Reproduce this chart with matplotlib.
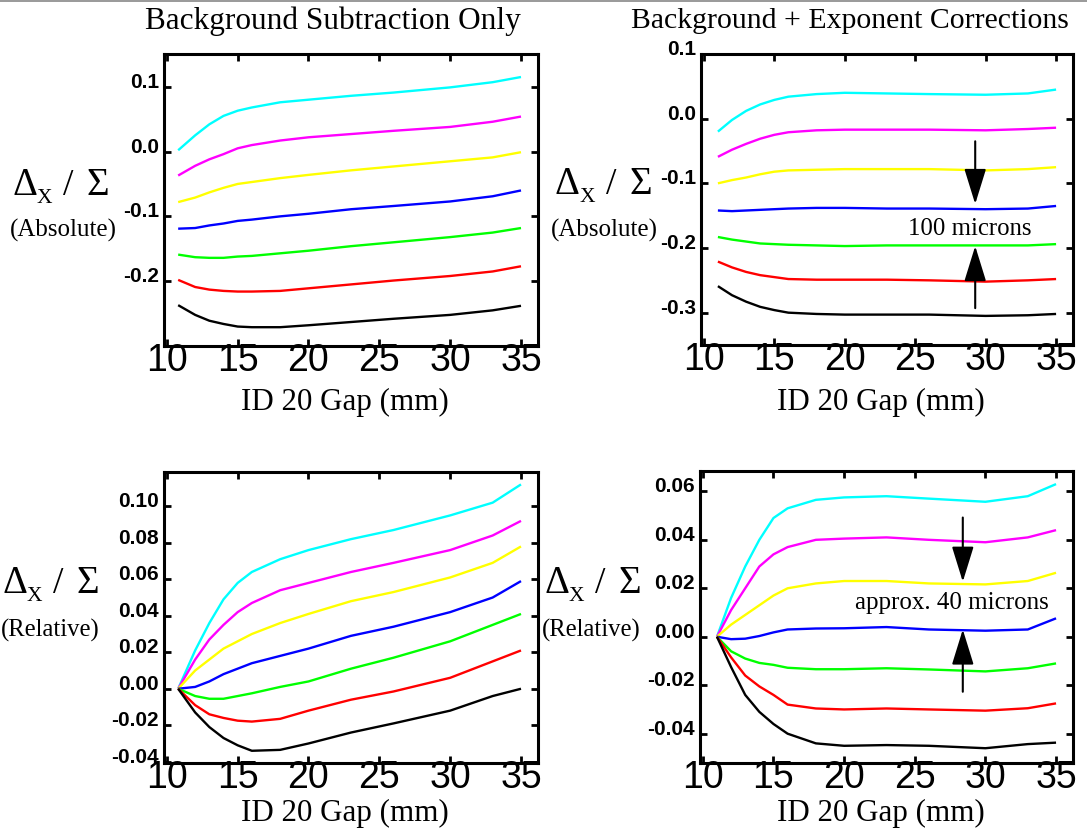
import matplotlib
matplotlib.use('Agg')
import matplotlib.pyplot as plt
import matplotlib.transforms as mtransforms
from matplotlib.lines import Line2D

W, H = 1087, 832

# ---------------- data ----------------
GAP_LEFT = [10.8, 12, 13, 14, 15, 16, 18, 20, 23, 26, 30, 33, 35]
GAP_RIGHT = [11.0, 12, 13, 14, 15, 16, 18, 20, 23, 26, 30, 33, 35]

COLORS = ['#00FFFF', '#FF00FF', '#FFFF00', '#0000FF', '#00FF00', '#FF0000', '#000000']

# Background subtraction only, absolute
BG_ABS_CYAN = [0.002, 0.025, 0.042, 0.055, 0.063, 0.068, 0.076, 0.080, 0.086, 0.091, 0.099, 0.107, 0.115]
BG_ABS_MAGENTA = [-0.037, -0.022, -0.012, -0.004, 0.005, 0.010, 0.017, 0.022, 0.027, 0.032, 0.038, 0.046, 0.054]
BG_ABS_YELLOW = [-0.078, -0.071, -0.063, -0.056, -0.050, -0.047, -0.041, -0.036, -0.029, -0.023, -0.015, -0.009, -0.001]
BG_ABS_BLUE = [-0.119, -0.118, -0.114, -0.111, -0.107, -0.105, -0.100, -0.096, -0.089, -0.084, -0.077, -0.069, -0.060]
BG_ABS_GREEN = [-0.159, -0.163, -0.164, -0.164, -0.162, -0.161, -0.157, -0.153, -0.146, -0.140, -0.132, -0.125, -0.118]
BG_ABS_RED = [-0.198, -0.209, -0.213, -0.215, -0.216, -0.216, -0.215, -0.211, -0.205, -0.199, -0.192, -0.185, -0.177]
BG_ABS_BLACK = [-0.237, -0.252, -0.261, -0.266, -0.270, -0.271, -0.271, -0.268, -0.263, -0.258, -0.252, -0.245, -0.238]

# Background + exponent corrections, absolute
EX_ABS_CYAN = [-0.020, -0.002, 0.012, 0.022, 0.029, 0.034, 0.038, 0.040, 0.039, 0.038, 0.037, 0.039, 0.045]
EX_ABS_MAGENTA = [-0.059, -0.048, -0.039, -0.031, -0.025, -0.021, -0.018, -0.017, -0.017, -0.017, -0.018, -0.016, -0.014]
EX_ABS_YELLOW = [-0.100, -0.095, -0.091, -0.086, -0.082, -0.080, -0.079, -0.078, -0.078, -0.078, -0.080, -0.078, -0.075]
EX_ABS_BLUE = [-0.142, -0.143, -0.142, -0.141, -0.140, -0.139, -0.138, -0.138, -0.139, -0.139, -0.140, -0.139, -0.135]
EX_ABS_GREEN = [-0.183, -0.187, -0.190, -0.193, -0.194, -0.195, -0.196, -0.197, -0.196, -0.196, -0.196, -0.196, -0.194]
EX_ABS_RED = [-0.221, -0.230, -0.237, -0.242, -0.245, -0.248, -0.249, -0.249, -0.249, -0.250, -0.252, -0.250, -0.248]
EX_ABS_BLACK = [-0.259, -0.273, -0.283, -0.291, -0.296, -0.300, -0.302, -0.303, -0.303, -0.303, -0.305, -0.304, -0.302]

# Background subtraction only, relative
BG_REL_CYAN = [0.000, 0.021, 0.036, 0.049, 0.058, 0.064, 0.071, 0.076, 0.082, 0.087, 0.095, 0.102, 0.112]
BG_REL_MAGENTA = [0.000, 0.016, 0.027, 0.035, 0.042, 0.047, 0.054, 0.058, 0.064, 0.069, 0.076, 0.084, 0.092]
BG_REL_YELLOW = [0.000, 0.010, 0.016, 0.022, 0.026, 0.030, 0.036, 0.041, 0.048, 0.053, 0.061, 0.069, 0.078]
BG_REL_BLUE = [0.000, 0.001, 0.004, 0.008, 0.011, 0.014, 0.018, 0.022, 0.029, 0.034, 0.042, 0.050, 0.059]
BG_REL_GREEN = [0.000, -0.004, -0.0055, -0.0055, -0.004, -0.0025, 0.001, 0.004, 0.011, 0.017, 0.026, 0.035, 0.041]
BG_REL_RED = [0.000, -0.009, -0.014, -0.016, -0.0175, -0.018, -0.0165, -0.012, -0.006, -0.0015, 0.006, 0.015, 0.021]
BG_REL_BLACK = [0.000, -0.013, -0.021, -0.027, -0.031, -0.034, -0.0335, -0.030, -0.024, -0.019, -0.012, -0.004, 0.000]

# Background + exponent corrections, relative
EX_REL_CYAN = [0.000, 0.016, 0.029, 0.040, 0.049, 0.053, 0.0565, 0.0575, 0.058, 0.057, 0.0557, 0.058, 0.063]
EX_REL_MAGENTA = [0.000, 0.011, 0.020, 0.029, 0.034, 0.037, 0.040, 0.0405, 0.041, 0.040, 0.039, 0.041, 0.044]
EX_REL_YELLOW = [0.000, 0.005, 0.009, 0.013, 0.017, 0.020, 0.022, 0.023, 0.023, 0.022, 0.0216, 0.023, 0.0264]
EX_REL_BLUE = [0.000, -0.001, -0.0008, 0.0003, 0.0018, 0.003, 0.0034, 0.0035, 0.004, 0.003, 0.0025, 0.003, 0.0076]
EX_REL_GREEN = [0.000, -0.006, -0.009, -0.0108, -0.0116, -0.0128, -0.0134, -0.0134, -0.013, -0.0135, -0.0143, -0.013, -0.011]
EX_REL_RED = [0.000, -0.0085, -0.016, -0.0205, -0.024, -0.028, -0.0296, -0.030, -0.0296, -0.030, -0.0305, -0.0295, -0.0275]
EX_REL_BLACK = [0.000, -0.0125, -0.024, -0.031, -0.036, -0.040, -0.044, -0.045, -0.0447, -0.045, -0.046, -0.0443, -0.0437]

X_TICKS = [10, 15, 20, 25, 30, 35]
X_TICK_LABELS = ['10', '15', '20', '25', '30', '35']

Y_TICKS_BG_ABS = [-0.2, -0.1, 0.0, 0.1]
Y_LABELS_BG_ABS = ['-0.2', '-0.1', '0.0', '0.1']
Y_TICKS_EX_ABS = [-0.3, -0.2, -0.1, 0.0, 0.1]
Y_LABELS_EX_ABS = ['-0.3', '-0.2', '-0.1', '0.0', '0.1']
Y_TICKS_BG_REL = [-0.04, -0.02, 0.00, 0.02, 0.04, 0.06, 0.08, 0.10]
Y_LABELS_BG_REL = ['-0.04', '-0.02', '0.00', '0.02', '0.04', '0.06', '0.08', '0.10']
Y_TICKS_EX_REL = [-0.04, -0.02, 0.00, 0.02, 0.04, 0.06]
Y_LABELS_EX_REL = ['-0.04', '-0.02', '0.00', '0.02', '0.04', '0.06']

TITLES = ['Background Subtraction Only', 'Background + Exponent Corrections']
X_LABEL = 'ID 20 Gap (mm)'
Y_LABEL_DELTA = 'Δ'
Y_LABEL_SUB = 'X'
Y_LABEL_SLASH = '/'
Y_LABEL_SIGMA = 'Σ'
Y_LABEL_ABS = '(Absolute)'
Y_LABEL_REL = '(Relative)'
ANNOT_ABS = '100 microns'
ANNOT_REL = 'approx. 40 microns'

# ---------------- figure ----------------
fig = plt.figure(figsize=(W / 100, H / 100), dpi=100)
serif = 'Liberation Serif'


def px_rect(l, r, t, b):
    return [l / W, 1 - b / H, (r - l) / W, (b - t) / H]


panels = [
    dict(rect=px_rect(164, 538, 54, 346), gap=GAP_LEFT, ylim=(-0.30, 0.1505),
         yt=Y_TICKS_BG_ABS, yl=Y_LABELS_BG_ABS,
         series=[BG_ABS_CYAN, BG_ABS_MAGENTA, BG_ABS_YELLOW, BG_ABS_BLUE, BG_ABS_GREEN, BG_ABS_RED, BG_ABS_BLACK]),
    dict(rect=px_rect(701, 1073, 54, 345), gap=GAP_RIGHT, ylim=(-0.35, 0.10),
         yt=Y_TICKS_EX_ABS, yl=Y_LABELS_EX_ABS,
         series=[EX_ABS_CYAN, EX_ABS_MAGENTA, EX_ABS_YELLOW, EX_ABS_BLUE, EX_ABS_GREEN, EX_ABS_RED, EX_ABS_BLACK]),
    dict(rect=px_rect(164, 538, 472, 763), gap=GAP_LEFT, ylim=(-0.0407, 0.1188),
         yt=Y_TICKS_BG_REL, yl=Y_LABELS_BG_REL,
         series=[BG_REL_CYAN, BG_REL_MAGENTA, BG_REL_YELLOW, BG_REL_BLUE, BG_REL_GREEN, BG_REL_RED, BG_REL_BLACK]),
    dict(rect=px_rect(700, 1073, 471, 763), gap=GAP_RIGHT, ylim=(-0.0521, 0.0684),
         yt=Y_TICKS_EX_REL, yl=Y_LABELS_EX_REL,
         series=[EX_REL_CYAN, EX_REL_MAGENTA, EX_REL_YELLOW, EX_REL_BLUE, EX_REL_GREEN, EX_REL_RED, EX_REL_BLACK]),
]

axes = []
for p in panels:
    ax = fig.add_axes(p['rect'])
    for vals, c in zip(p['series'], COLORS):
        ax.plot(p['gap'], vals, color=c, lw=1.7, solid_capstyle='butt', solid_joinstyle='round')
    ax.set_xlim(9.8, 36.2)
    ax.set_ylim(*p['ylim'])
    ax.set_xticks(X_TICKS)
    ax.set_xticklabels(X_TICK_LABELS, fontsize=27, family='Liberation Sans')
    ax.set_yticks(p['yt'])
    ax.set_yticklabels(p['yl'], fontsize=15, family='Liberation Sans', fontweight='bold')
    ax.tick_params(direction='in', length=5, width=2, top=True, right=True, color='black')
    ax.tick_params(axis='x', pad=-2)
    ax.tick_params(axis='y', pad=3.5)
    for sp in ax.spines.values():
        sp.set_linewidth(2.2)
    off = mtransforms.ScaledTranslation(0, 6.5 / 100, fig.dpi_scale_trans)
    for lab in ax.get_yticklabels():
        lab.set_transform(lab.get_transform() + off)
    axes.append(ax)

# annotations with arrows
arrow_kw = dict(arrowstyle='-|>,head_length=1.1,head_width=0.34', color='black', lw=1.5,
                mutation_scale=20, shrinkA=0, shrinkB=0)
ax = axes[1]
ax.annotate('', xy=(29.26, -0.132), xytext=(29.26, -0.035), arrowprops=arrow_kw)
ax.annotate('', xy=(29.26, -0.197), xytext=(29.26, -0.293), arrowprops=arrow_kw)
ax.text(28.9, -0.171, ANNOT_ABS, ha='center', va='center', family=serif, fontsize=17.8)
ax = axes[3]
ax.annotate('', xy=(28.4, 0.0227), xytext=(28.4, 0.0492), arrowprops=arrow_kw)
ax.annotate('', xy=(28.4, 0.003), xytext=(28.4, -0.0227), arrowprops=arrow_kw)
ax.text(27.6, 0.014, ANNOT_REL, ha='center', va='center', family=serif, fontsize=18)

fig.canvas.draw()


def fit_text(x, y, s, target_w, va='center', **kw):
    t = fig.text(x / W, 1 - y / H, s, ha='center', va=va, **kw)
    fig.canvas.draw()
    bb = t.get_window_extent()
    t.set_fontsize(t.get_fontsize() * target_w / bb.width)
    return t


def ptext(x, y, s, ha='left', va='baseline', **kw):
    return fig.text(x / W, 1 - y / H, s, ha=ha, va=va, family=serif, **kw)


fit_text(333, 21, TITLES[0], 375, family=serif, fontsize=20)
fit_text(850, 21, TITLES[1], 437, family=serif, fontsize=20)

for cx, cy in [(345, 402), (881, 402), (345, 813), (881, 813)]:
    fit_text(cx, cy, X_LABEL, 208, family=serif, fontsize=20)

# Delta_X / Sigma labels, built from pieces: (left x of Delta, baseline y)
for lx, by in [(12, 195), (555, 194), (2, 593), (544, 593)]:
    ptext(lx, by, Y_LABEL_DELTA, fontsize=28)
    ptext(lx + 25, by + 8, Y_LABEL_SUB, fontsize=15.5)
    ptext(lx + 56, by, Y_LABEL_SLASH, ha='center', fontsize=27)
    ptext(lx + 85.5, by, Y_LABEL_SIGMA, ha='center', fontsize=28)

fit_text(63.5, 230, Y_LABEL_ABS, 107, family=serif, fontsize=18)
fit_text(604.5, 230, Y_LABEL_ABS, 107, family=serif, fontsize=18)
fit_text(50, 630, Y_LABEL_REL, 99, family=serif, fontsize=18)
fit_text(591.5, 630, Y_LABEL_REL, 99, family=serif, fontsize=18)

# thin grey rule across the top edge
fig.add_artist(Line2D([0, 1], [1 - 1 / H, 1 - 1 / H], transform=fig.transFigure, color='#888888', lw=1.2))

fig.savefig('out.png', dpi=100)
